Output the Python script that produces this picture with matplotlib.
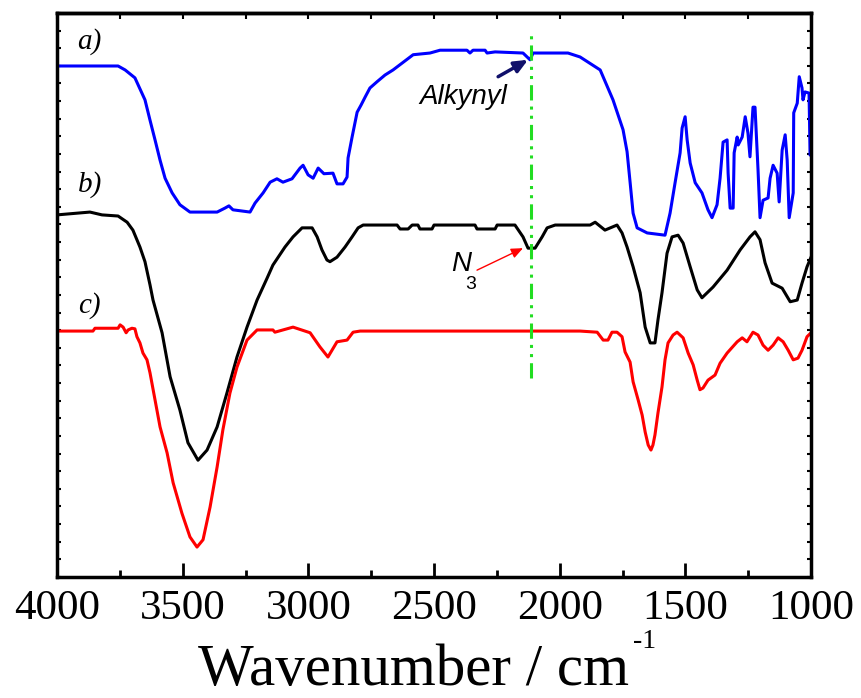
import matplotlib
matplotlib.use('Agg')
import matplotlib.pyplot as plt
from matplotlib.ticker import MultipleLocator

plt.rcParams['font.family'] = ['Liberation Serif', 'DejaVu Serif']

# FTIR spectra (wavenumber in cm-1, offset transmittance in a.u.)
wn_a = [4000, 3757, 3729, 3690, 3650, 3630, 3610, 3590, 3570, 3542, 3511, 3471, 3363, 3332,
        3316, 3300, 3232, 3212, 3180, 3152, 3125, 3101, 3065, 3033, 3021, 3001, 2981, 2961,
        2938, 2902, 2886, 2862, 2846, 2842, 2826, 2806, 2790, 2774, 2755, 2727, 2695, 2663,
        2583, 2516, 2476, 2369, 2357, 2345, 2297, 2289, 2257, 2146, 2118, 2106, 1967, 1919,
        1839, 1788, 1748, 1732, 1720, 1708, 1692, 1652, 1581, 1561, 1541, 1521, 1513, 1501,
        1493, 1481, 1461, 1434, 1410, 1394, 1374, 1362, 1350, 1334, 1330, 1322, 1310, 1306,
        1294, 1290, 1274, 1262, 1251, 1243, 1231, 1223, 1211, 1203, 1191, 1171, 1163, 1151,
        1135, 1127, 1115, 1103, 1095, 1087, 1071, 1069, 1055, 1047, 1036, 1032, 1024, 1008,
        1004, 1000]
t_a = [90.6, 90.6, 89.9, 88.5, 84.6, 81.0, 77.5, 73.9, 70.7, 68.1, 66.0, 64.7, 64.7, 65.4,
       65.8, 65.1, 64.7, 66.3, 68.1, 70.0, 70.6, 70.0, 70.6, 72.5, 73.0, 71.3, 70.7, 72.5,
       71.5, 71.6, 69.7, 69.7, 70.9, 74.3, 78.0, 82.4, 83.7, 85.1, 86.7, 87.8, 89.0, 89.9,
       92.6, 92.9, 93.4, 93.4, 92.9, 93.4, 93.4, 92.9, 93.1, 92.9, 91.7, 92.9, 92.9, 92.2,
       89.9, 84.6, 79.3, 75.4, 70.0, 64.5, 61.9, 61.0, 60.6, 64.5, 69.9, 75.2, 79.6, 81.6,
       77.5, 73.4, 69.9, 68.1, 65.1, 63.7, 66.0, 70.7, 77.1, 77.5, 71.6, 65.4, 65.4, 75.2,
       78.0, 76.6, 78.0, 81.6, 78.7, 74.5, 83.3, 83.3, 72.2, 63.7, 66.8, 67.2, 70.7, 73.0,
       71.6, 66.5, 75.7, 78.4, 73.9, 63.7, 68.1, 82.3, 84.0, 88.7, 86.7, 84.6, 86.0, 85.8,
       74.8, 74.8]

wn_b = [4000, 3869, 3821, 3757, 3721, 3698, 3670, 3650, 3630, 3618, 3582, 3550, 3511, 3479,
        3439, 3403, 3363, 3324, 3284, 3244, 3204, 3164, 3141, 3093, 3061, 3025, 2985, 2965,
        2946, 2926, 2914, 2886, 2854, 2826, 2802, 2782, 2647, 2635, 2603, 2587, 2564, 2556,
        2508, 2500, 2337, 2329, 2257, 2249, 2178, 2146, 2126, 2098, 2070, 2050, 2018, 1879,
        1859, 1820, 1772, 1752, 1732, 1708, 1680, 1660, 1640, 1621, 1609, 1593, 1573, 1553,
        1529, 1509, 1481, 1453, 1434, 1390, 1334, 1282, 1243, 1223, 1203, 1183, 1155, 1115,
        1083, 1055, 1036, 1016, 1000]
t_b = [64.2, 64.7, 64.2, 64.0, 62.9, 61.5, 58.5, 55.9, 51.8, 49.1, 43.3, 35.5, 29.6, 23.8,
       20.7, 22.5, 26.6, 32.6, 39.0, 44.3, 49.1, 53.0, 55.3, 58.5, 60.3, 61.9, 61.9, 60.3,
       58.0, 56.2, 55.9, 56.7, 58.5, 60.3, 61.9, 62.4, 62.4, 61.7, 61.7, 62.4, 62.4, 61.7,
       61.7, 62.4, 62.4, 61.7, 61.7, 62.4, 62.4, 60.3, 58.3, 58.3, 60.3, 61.9, 62.4, 62.4,
       62.9, 61.5, 62.4, 61.0, 58.5, 55.0, 50.4, 44.3, 41.5, 41.5, 45.6, 50.4, 57.4, 60.3,
       60.6, 59.2, 55.0, 50.9, 49.5, 51.4, 54.4, 58.0, 60.3, 61.2, 59.8, 55.7, 52.1, 51.2,
       48.8, 49.1, 52.1, 55.0, 56.7]

wn_c = [4000, 3857, 3849, 3757, 3749, 3737, 3725, 3717, 3702, 3690, 3682, 3670, 3658, 3642,
        3630, 3610, 3590, 3562, 3538, 3503, 3471, 3443, 3419, 3391, 3363, 3340, 3312, 3284,
        3244, 3204, 3141, 3133, 3061, 2993, 2954, 2922, 2886, 2846, 2822, 2794, 1919, 1851,
        1827, 1808, 1792, 1772, 1752, 1740, 1720, 1708, 1688, 1672, 1660, 1648, 1637, 1629,
        1621, 1609, 1593, 1581, 1569, 1549, 1533, 1509, 1489, 1469, 1453, 1442, 1430, 1410,
        1382, 1362, 1334, 1294, 1274, 1255, 1231, 1211, 1191, 1171, 1151, 1131, 1111, 1091,
        1071, 1052, 1036, 1016, 1000]
t_c = [43.6, 43.6, 44.1, 44.1, 44.7, 44.3, 43.3, 43.8, 44.1, 44.0, 42.6, 41.5, 39.7, 38.5,
       36.2, 31.4, 26.6, 22.0, 16.7, 11.3, 7.1, 5.3, 6.6, 12.4, 19.5, 26.1, 32.6, 37.2,
       42.0, 43.8, 43.8, 43.4, 44.3, 43.3, 40.8, 39.0, 41.7, 42.0, 43.4, 43.6, 43.6, 43.4,
       42.0, 42.0, 43.4, 43.4, 42.6, 39.9, 38.1, 34.6, 31.4, 28.7, 25.7, 23.4, 22.5, 23.4,
       25.2, 29.1, 33.7, 38.5, 41.5, 42.9, 43.4, 42.4, 39.7, 37.6, 34.9, 33.2, 33.5, 34.9,
       35.8, 37.9, 39.7, 41.7, 42.4, 41.7, 43.4, 42.9, 41.1, 40.2, 41.1, 42.4, 41.7, 40.2,
       38.5, 38.8, 40.2, 42.6, 43.3]

curve_labels = ['a)', 'b)', 'c)']
label_y = [94.9, 69.5, 48.2]
marker_wn = 2114
xticks = [4000, 3500, 3000, 2500, 2000, 1500, 1000]

fig = plt.figure(figsize=(8.61, 6.98), dpi=100)
ax = fig.add_axes([0.0662, 0.1734, 0.8758, 0.8080])

ax.plot(wn_a, t_a, color='#0000ff', linewidth=2.2)
ax.plot(wn_b, t_b, color='black', linewidth=2.2)
ax.plot(wn_c, t_c, color='#ff0000', linewidth=2.2)

# marker line for the alkyne / azide band
ax.plot([marker_wn, marker_wn], [35.3, 96.6], color='#22dd22', linewidth=2.2,
        linestyle=(0, (5, 2, 1, 2, 1, 2)))

for lab, y in zip(curve_labels, label_y):
    ax.text(3870, y, lab, fontsize=21, fontstyle='italic', ha='center', va='center')

ax.annotate('', xy=(2126, 91.7), xytext=(2245, 88.7),
            arrowprops=dict(arrowstyle='-|>,head_length=0.8,head_width=0.35',
                            color='#10106a', lw=2.5, shrinkA=0, shrinkB=0))
ax.text(2384, 85.1, 'Alkynyl', fontsize=20, fontstyle='italic', family='Liberation Sans',
        ha='center', va='center')

ax.annotate('', xy=(2146, 58.3), xytext=(2329, 54.4),
            arrowprops=dict(arrowstyle='-|>,head_length=0.7,head_width=0.3',
                            color='#ff0000', lw=1, shrinkA=0, shrinkB=0))
ax.text(2392, 55.5, 'N', fontsize=20, fontstyle='italic', family='Liberation Sans',
        ha='center', va='center')
ax.text(2355, 51.8, '3', fontsize=14, family='Liberation Sans', ha='center', va='center')

ax.set_xlim(4000, 1000)
ax.set_ylim(0, 100)
ax.set_xticks(xticks)
ax.set_xticklabels([str(v) for v in xticks], fontsize=31, family='Liberation Serif')
ax.xaxis.set_minor_locator(MultipleLocator(250))
ax.yaxis.set_major_locator(MultipleLocator(3.125))
ax.set_yticklabels([])
ax.tick_params(axis='x', which='major', direction='in', length=10, width=2, pad=9)
ax.tick_params(axis='x', which='minor', direction='in', length=5, width=2)
ax.tick_params(axis='y', which='major', direction='in', length=3, width=1.5,
               left=True, right=True)

top = ax.secondary_xaxis('top')
top.xaxis.set_major_locator(MultipleLocator(250))
top.tick_params(direction='in', length=4, width=1.5, labeltop=False)

for sp in ax.spines.values():
    sp.set_linewidth(2.5)
for sp in top.spines.values():
    sp.set_linewidth(2.5)

fig.text(414 / 861, 0.019, 'Wavenumber / cm', fontsize=42.5, ha='center', va='baseline')
fig.text(633 / 861, 1 - 642 / 698, '-1', fontsize=20, ha='left', va='center')

fig.savefig('out.png', dpi=100)
